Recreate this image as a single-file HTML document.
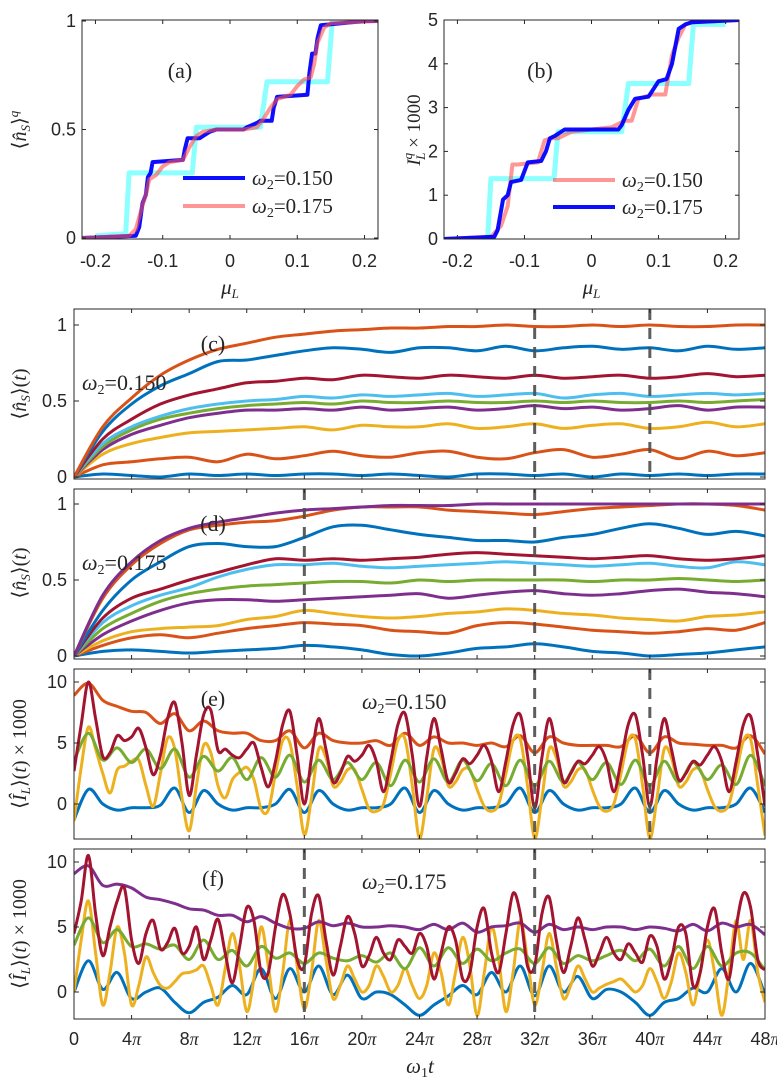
<!DOCTYPE html>
<html><head><meta charset="utf-8">
<style>
body{margin:0;background:#fff;}
svg{display:block;font-family:"Liberation Sans",sans-serif;}
.tk{font-size:18px;fill:#262626;}
.mt{font-family:"Liberation Serif",serif;fill:#262626;}
</style></head>
<body>
<svg id="fig" width="777" height="1085" viewBox="0 0 777 1085" xmlns="http://www.w3.org/2000/svg">
<defs>
<clipPath id="ca"><rect x="82" y="20" width="296" height="219"/></clipPath>
<clipPath id="cb"><rect x="444" y="20" width="295" height="219"/></clipPath>
<clipPath id="cc"><rect x="74" y="309" width="691" height="170"/></clipPath>
<clipPath id="cd"><rect x="74" y="489" width="691" height="170"/></clipPath>
<clipPath id="ce"><rect x="74" y="669" width="691" height="170"/></clipPath>
<clipPath id="cf"><rect x="74" y="849" width="691" height="170"/></clipPath>
</defs>
</svg>
<script>
// ---------- data: panels (a),(b) ----------
const aBlueMu=[-0.22,-0.14,-0.135,-0.13,-0.125,-0.122,-0.118,-0.115,-0.07,-0.067,-0.063,-0.045,-0.04,-0.03,-0.02,0.02,0.025,0.04,0.045,0.062,0.065,0.07,0.115,0.118,0.122,0.127,0.13,0.135,0.2,0.22];
const aBlueV=[0,0.01,0.05,0.16,0.2,0.28,0.3,0.35,0.36,0.41,0.46,0.46,0.47,0.49,0.5,0.5,0.51,0.53,0.54,0.54,0.6,0.65,0.66,0.76,0.85,0.85,0.92,0.98,1,1];
const aSalMu=[-0.22,-0.15,-0.14,-0.13,-0.125,-0.12,-0.11,-0.1,-0.09,-0.07,-0.06,-0.05,-0.04,-0.02,0.02,0.04,0.05,0.06,0.07,0.09,0.1,0.11,0.12,0.125,0.13,0.14,0.15,0.22];
const aSalV=[0,0.01,0.04,0.15,0.2,0.27,0.29,0.33,0.35,0.36,0.42,0.47,0.49,0.5,0.5,0.51,0.55,0.6,0.64,0.66,0.7,0.73,0.74,0.8,0.9,0.97,0.99,1];
const cyanMu=[-0.2,-0.155,-0.15,-0.056,-0.05,0.045,0.055,0.145,0.152,0.2];
const aCyanV=[0.01,0.02,0.3,0.3,0.51,0.51,0.72,0.72,1,1];
const bCyanV=[0,0,1.38,1.38,2.45,2.45,3.55,3.55,4.9,4.9];
const bBlueMu=[-0.22,-0.145,-0.14,-0.132,-0.125,-0.12,-0.105,-0.095,-0.075,-0.068,-0.062,-0.055,-0.04,0.04,0.045,0.055,0.065,0.085,0.1,0.112,0.12,0.13,0.14,0.15,0.22];
const bBlueV=[0,0.05,0.2,0.9,1.0,1.3,1.35,1.75,1.78,2.0,2.3,2.35,2.5,2.5,2.6,2.95,3.2,3.25,3.6,3.65,4.0,4.8,4.9,4.95,5];
const bSalMu=[-0.22,-0.15,-0.135,-0.125,-0.118,-0.11,-0.08,-0.07,-0.06,-0.05,-0.03,0.03,0.05,0.06,0.07,0.09,0.11,0.12,0.13,0.14,0.15,0.22];
const bSalV=[0,0.05,0.3,0.75,1.7,1.7,1.75,2.25,2.3,2.3,2.45,2.55,2.7,2.7,3.2,3.3,3.3,4.2,4.6,4.9,4.95,5];

// ---------- data: panel (c) omega2=0.150, t = 0,2,...,48 (units of pi) ----------
const tC=[0,2,4,6,8,10,12,14,16,18,20,22,24,26,28,30,32,34,36,38,40,42,44,46,48];
const cBlueLow=[0,0.02,0.01,0,0.02,0.01,0.02,0.01,0.02,0.02,0.01,0.02,0.01,0,0.02,0.02,0.01,0.02,0,0.02,0.01,0.02,0.01,0.02,0.02];
const cOrangeLow=[0,0.08,0.1,0.12,0.13,0.1,0.15,0.12,0.14,0.17,0.14,0.13,0.16,0.17,0.13,0.12,0.16,0.18,0.13,0.15,0.18,0.12,0.17,0.14,0.16];
const cYellow=[0,0.15,0.22,0.26,0.29,0.3,0.31,0.32,0.33,0.31,0.34,0.33,0.33,0.35,0.32,0.33,0.35,0.32,0.34,0.35,0.32,0.33,0.36,0.33,0.35];
const cPurple=[0,0.18,0.28,0.34,0.39,0.42,0.44,0.44,0.45,0.44,0.46,0.44,0.45,0.46,0.44,0.45,0.47,0.45,0.46,0.44,0.45,0.47,0.44,0.46,0.46];
const cGreen=[0,0.2,0.31,0.38,0.42,0.45,0.47,0.48,0.49,0.48,0.5,0.49,0.49,0.5,0.49,0.49,0.5,0.49,0.5,0.49,0.49,0.5,0.49,0.5,0.51];
const cLight=[0,0.22,0.33,0.4,0.45,0.48,0.5,0.51,0.53,0.52,0.54,0.53,0.54,0.55,0.53,0.54,0.55,0.52,0.54,0.55,0.53,0.54,0.55,0.54,0.55];
const cRed=[0,0.25,0.38,0.48,0.54,0.58,0.62,0.63,0.65,0.64,0.67,0.66,0.65,0.67,0.66,0.65,0.67,0.65,0.66,0.67,0.65,0.66,0.68,0.66,0.67];
const cBlueHigh=[0,0.3,0.48,0.6,0.68,0.76,0.77,0.8,0.83,0.85,0.84,0.82,0.85,0.85,0.83,0.86,0.83,0.85,0.86,0.84,0.85,0.83,0.86,0.84,0.85];
const cOrangeTop=[0,0.33,0.52,0.67,0.77,0.84,0.88,0.92,0.94,0.96,0.97,0.98,0.98,0.99,0.99,1,0.99,0.99,1,0.99,1,0.99,0.99,1,1];

// ---------- data: panel (d) omega2=0.175 ----------
const dBlueLow=[0,0.03,0.04,0.03,0.02,0.03,0.04,0.05,0.07,0.06,0.04,0.01,0,0.02,0.05,0.06,0.08,0.06,0.03,0.02,0,0.01,0.02,0.04,0.06];
const dOrangeLow=[0,0.07,0.12,0.14,0.12,0.15,0.18,0.2,0.22,0.21,0.2,0.17,0.16,0.15,0.2,0.22,0.21,0.19,0.17,0.16,0.15,0.16,0.18,0.17,0.22];
const dYellow=[0,0.1,0.16,0.18,0.19,0.2,0.24,0.26,0.3,0.28,0.26,0.25,0.26,0.28,0.29,0.31,0.3,0.28,0.27,0.25,0.24,0.23,0.26,0.27,0.29];
const dPurpleLow=[0,0.14,0.23,0.3,0.35,0.37,0.37,0.36,0.37,0.38,0.39,0.4,0.41,0.38,0.4,0.42,0.43,0.41,0.4,0.41,0.43,0.44,0.42,0.41,0.39];
const dGreen=[0,0.18,0.28,0.36,0.41,0.44,0.46,0.47,0.48,0.49,0.49,0.48,0.5,0.49,0.5,0.5,0.5,0.5,0.49,0.5,0.5,0.51,0.5,0.49,0.5];
const dLight=[0,0.22,0.33,0.4,0.45,0.52,0.57,0.6,0.6,0.61,0.59,0.58,0.59,0.6,0.61,0.62,0.61,0.6,0.59,0.6,0.61,0.59,0.58,0.62,0.6];
const dRed=[0,0.25,0.38,0.44,0.5,0.55,0.6,0.64,0.63,0.64,0.63,0.64,0.65,0.67,0.68,0.67,0.66,0.65,0.64,0.65,0.66,0.64,0.63,0.64,0.66];
const dBlueHigh=[0,0.3,0.5,0.62,0.72,0.74,0.72,0.72,0.78,0.85,0.86,0.83,0.8,0.78,0.76,0.76,0.75,0.78,0.8,0.84,0.87,0.84,0.8,0.82,0.79];
const dOrangeTop=[0,0.38,0.6,0.74,0.83,0.86,0.88,0.89,0.92,0.96,0.98,0.98,0.98,0.96,0.95,0.94,0.93,0.95,0.97,0.98,0.99,1,1,0.99,0.96];
const dPurpleTop=[0,0.4,0.62,0.76,0.84,0.88,0.91,0.94,0.96,0.97,0.98,0.99,0.99,0.99,1,1,1,1,1,1,1,1,1,1,1];

// ---------- data: panel (e) ----------
const t1=[0,1,2,3,4,5,6,7,8,9,10,11,12,13,14,15,16,17,18,19,20,21,22,23,24,25,26,27,28,29,30,31,32,33,34,35,36,37,38,39,40,41,42,43,44,45,46,47,48];
const tH=[0,0.5,1,1.5,2,2.5,3,3.5,4,4.5,5,5.5,6,6.5,7,7.5,8,8.5,9,9.5,10,10.5,11,11.5,12,12.5,13,13.5,14,14.5,15,15.5,16,16.5,17,17.5,18,18.5,19,19.5,20,20.5,21,21.5,22,22.5,23,23.5,24,24.5,25,25.5,26,26.5,27,27.5,28,28.5,29,29.5,30,30.5,31,31.5,32,32.5,33,33.5,34,34.5,35,35.5,36,36.5,37,37.5,38,38.5,39,39.5,40,40.5,41,41.5,42,42.5,43,43.5,44,44.5,45,45.5,46,46.5,47,47.5,48];
const eBlue=[-1.3,1.2,0,-0.5,-0.3,-0.3,-0.1,1.3,-0.7,1.1,0,-0.5,-0.3,-0.3,0,1.2,-0.7,1.1,0,-0.5,-0.3,-0.3,0,1.3,-0.7,1.1,0,-0.5,-0.3,-0.3,0,1.3,-0.7,1.1,0,-0.5,-0.3,-0.3,0,1.3,-0.7,1.1,0,-0.5,-0.3,-0.3,0,1.3,-0.7];
const eGreen=[3.5,5.8,3.6,4.6,3.4,4.5,2.9,4.5,2.2,3.9,2.7,3.8,2,3.8,2.2,4,1.8,3.6,2,3.4,2,3.4,1.5,3.6,1.8,3.7,1.8,3.6,1.9,3.3,1.5,3.6,1.5,3.5,1.8,3.4,2,3.4,1.6,3.6,1.5,3.5,1.8,3.4,2,3.2,1.6,4,1.5];
const eOrange=[8.9,9.9,8.5,8,7.6,7.5,6.6,7.4,6,6.8,6,5.8,5.8,5.2,5.2,6,4.6,5.8,5.2,5,5,5.2,4.8,5.8,4.8,5.5,5,5,4.8,5,4.7,5.6,4.2,5.5,5,4.8,4.8,4.8,4.7,5.6,4.2,5.5,5,4.9,4.8,4.8,4.6,5.6,4.1];
const eRed=[2.7,6.5,10,7,3.9,4.2,5.6,5.2,5.5,6.2,4.6,2.4,4,7,8.3,5,0.7,4,7.3,7.7,4.4,4.5,4,3.8,4.5,5,3,1.4,3.5,6.5,7.6,4,0,3.8,7,4.5,1.8,2.5,3.9,3.5,4,4.8,3.5,1,3.5,6.5,7.4,4,-0.2,3.8,7,4.5,1.8,2.5,3.7,3.3,4,4.8,3.5,1,3.5,6.5,7.3,4,-0.3,3.8,7,4.5,1.8,2.5,3.5,3.3,4,4.7,3.5,1,3.5,6.5,7.3,4,-0.2,3.8,7,4.5,2,2.5,3.5,3.2,4,4.7,3.5,1,3.5,6.5,7.2,4,-0.2];
const eYellow=[-1.4,3,6.3,4.5,2.5,0.9,2.8,3.1,3.5,3.6,1.5,-0.2,2.5,5.4,4.5,0.5,-2.2,1.5,4.8,4.2,1.5,0.5,2,2.6,3,2,-0.4,-0.5,2.5,5.2,5,1.5,-2.5,0.5,4.5,3.8,1.5,1.8,2.8,2.8,1.2,-0.4,-0.6,0,2.5,5.2,5.3,1.5,-2.8,0.5,4.5,3.8,1.5,1.8,2.8,2.8,1.2,-0.2,-0.6,0,2.5,5.2,5.3,1.5,-2.8,0.5,4.5,3.8,1.5,1.8,2.8,2.8,1.2,-0.2,-0.6,0,2.5,5.2,5.3,1.5,-2.8,0.5,4.5,3.8,1.5,1.8,2.8,2.8,1.2,-0.2,-0.6,0,2.5,5.2,5.3,1.5,-2.6];

// ---------- data: panel (f) ----------
const fBlue=[0,2.4,0.2,1.5,-0.5,0,0.3,-0.8,-1.6,-0.8,-0.4,0.5,-0.2,1.8,-0.5,1.8,0,2,-0.2,1.3,-0.5,0,-0.2,-1,-1.8,-1,-0.3,0.5,-0.2,1.5,0,2,-0.3,2,0,1.2,-0.5,0.2,0,-0.8,-1.8,-0.8,-0.5,0.3,0,1.8,0,2.2,-0.2];
const fGreen=[3.6,5.7,3.8,4.8,3.5,3.7,3.3,3.6,2.5,4,2.5,3.2,2,3.5,2.6,3,2.2,3,2.6,2.4,2.8,2.3,3,1.8,3.4,2,3.4,2.2,3.3,2.4,3,3.3,2.2,3.4,2.2,2.8,2.4,2.8,3.2,2.4,3.3,2,3.5,1.8,3.5,2,3,3,1.7];
const fPurple=[9.1,9.7,8.2,8.3,8,7.3,7.1,6.8,6.4,6.3,5.9,5.9,5.4,5.8,5.3,4.9,4.9,5.4,5.1,5.3,5,5,5.1,5,4.8,5.2,4.8,5.3,4.6,5,5.1,5.3,4.6,5.2,4.8,5,4.8,5,5,4.8,5,4.9,4.7,5.2,4.7,5.3,5,5.2,4.4];
const fRed=[4.5,7,10.5,6,2.8,5,7,8,4,2.2,4.5,5.5,3.3,3.8,4.9,3,3.5,5,2.5,4,5.6,3,0.7,3.5,6.5,5.5,1.5,1.5,5,7.5,6,2.5,2,6,7.4,4,1.3,3.5,5.8,4.5,2,2.8,4.2,3,2.5,4,3.5,3,4.5,3.5,1,3,5,4,1,1.5,5,6.4,3,1.5,4.5,7.6,6,2,2,6,7.3,4,1.5,3.5,5.7,4,2,3,4.2,3,2.5,3.7,3,2.3,4.3,3.5,1,2.5,5,4.5,0.5,1.5,5,6.4,3,1,5,7.6,6.5,2.5,1.7];
const fYellow=[0,4,7,3,-1,1.5,5,3,-1,0.5,2.7,1.5,0.5,0.3,0.8,1.4,1.5,1.7,2,0.5,-1,1.8,4.5,2,-1.5,1,5,2,-1.5,1.5,5.5,2,-1.3,1.5,5.5,2.5,-0.5,0.5,2,1,0,0.5,2,1.2,0,0.5,1.8,0.5,-0.5,0.5,3,1.5,-1,1.5,4.2,2,-1.8,1.5,5,2.5,-1.5,1.5,5.5,2.5,-1,1.5,4.5,2,-0.5,0.5,2,1,0,0.3,0.6,0.8,1,0.5,0,0.5,1.8,0.8,-0.5,0.8,3,1.5,-1,1.5,4,1.5,-1.8,1.5,5.5,2.5,5.5,1.5,-0.8];

const timeTicks=[0,4,8,12,16,20,24,28,32,36,40,44,48];
const muTicks=[-0.2,-0.1,0,0.1,0.2];
const muTickLabels=["-0.2","-0.1","0","0.1","0.2"];

// ---------- helpers ----------
const svg=document.getElementById('fig');
const NS='http://www.w3.org/2000/svg';
function mk(tag,attrs,parent){const e=document.createElementNS(NS,tag);for(const k in attrs)e.setAttribute(k,attrs[k]);(parent||svg).appendChild(e);return e;}
function smooth(pts){let d='M'+pts[0][0].toFixed(1)+','+pts[0][1].toFixed(1);
 for(let i=0;i<pts.length-1;i++){const p0=pts[i-1]||pts[i],p1=pts[i],p2=pts[i+1],p3=pts[i+2]||p2;
 const c1=[p1[0]+(p2[0]-p0[0])/6,p1[1]+(p2[1]-p0[1])/6],c2=[p2[0]-(p3[0]-p1[0])/6,p2[1]-(p3[1]-p1[1])/6];
 d+='C'+c1[0].toFixed(1)+','+c1[1].toFixed(1)+' '+c2[0].toFixed(1)+','+c2[1].toFixed(1)+' '+p2[0].toFixed(1)+','+p2[1].toFixed(1);}return d;}
function poly(pts){return 'M'+pts.map(p=>p[0].toFixed(1)+','+p[1].toFixed(1)).join('L');}
function txt(x,y,s,cls,anchor,name,size){const e=mk('text',{x:x,y:y,'class':cls||'tk','text-anchor':anchor||'middle'});if(size)e.setAttribute('font-size',size);e.innerHTML=s;
 
 return e;}

// ---------- panels (a),(b) ----------
function muPanel(o){
 const X=m=>o.x0+(m+0.22)/0.44*(o.x1-o.x0);
 const Y=v=>o.yz-v*o.ys;
 const g=mk('g',{});
 
 
 const gl=mk('g',{'clip-path':'url(#'+o.clip+')'},g);
 o.series.forEach(s=>{const p=mk('path',{d:poly(s.mu.map((m,i)=>[X(m),Y(s.v[i])])),fill:'none',stroke:s.c,'stroke-width':s.w,'stroke-opacity':s.op,'stroke-linejoin':'round'},gl);
  
  });
 const ax=mk('rect',{x:o.x0,y:20,width:o.x1-o.x0,height:219,fill:'none',stroke:'#262626','stroke-width':1},g);
 
 
 muTicks.forEach((m,i)=>{mk('line',{x1:X(m),x2:X(m),y1:239,y2:235,stroke:'#262626'},g);mk('line',{x1:X(m),x2:X(m),y1:20,y2:24,stroke:'#262626'},g);
  txt(X(m),267,muTickLabels[i],'tk','middle','x-tick-label');});
 o.yt.forEach((v,i)=>{mk('line',{x1:o.x0,x2:o.x0+4,y1:Y(v),y2:Y(v),stroke:'#262626'},g);mk('line',{x1:o.x1,x2:o.x1-4,y1:Y(v),y2:Y(v),stroke:'#262626'},g);
  txt(o.x0-6,Y(v)+6,o.ytl[i],'tk','end','y-tick-label');});
 txt((o.x0+o.x1)/2,294,'<tspan font-style="italic">μ</tspan><tspan font-size="13" font-style="italic" dy="4">L</tspan>','mt','middle','x-axis-title',21);
}
muPanel({name:'panel-a',clip:'ca',x0:82,x1:378,yz:238,ys:217,yt:[0,0.5,1],ytl:['0','0.5','1'],series:[
 {name:'cyan-reference',mu:cyanMu,v:aCyanV,c:'#00ffff',w:5,op:0.45},
 {name:'series-omega-0150',mu:aBlueMu,v:aBlueV,c:'#0000ff',w:4,op:0.95},
 {name:'series-omega-0175',mu:aSalMu,v:aSalV,c:'#ff5050',w:4,op:0.6}]});
muPanel({name:'panel-b',clip:'cb',x0:444,x1:739,yz:239,ys:43.8,yt:[0,1,2,3,4,5],ytl:['0','1','2','3','4','5'],series:[
 {name:'cyan-reference',mu:cyanMu,v:bCyanV,c:'#00ffff',w:5,op:0.45},
 {name:'series-omega-0150',mu:bSalMu,v:bSalV,c:'#ff5050',w:4,op:0.6},
 {name:'series-omega-0175',mu:bBlueMu,v:bBlueV,c:'#0000ff',w:4,op:0.95}]});
txt(180,78,'(a)','mt','middle','panel-a-label',22);
txt(540,78,'(b)','mt','middle','panel-b-label',22);
(function(){const e=txt(0,0,'⟨<tspan font-style="italic">n̂</tspan><tspan font-size="13" font-style="italic" dy="4">S</tspan><tspan dy="-4">⟩</tspan><tspan font-size="13" font-style="italic" dy="-8">q</tspan>','mt','middle','y-axis-title-a',20);e.setAttribute('transform','translate(26,130) rotate(-90)');})();
(function(){const e=txt(0,0,'<tspan font-style="italic">I</tspan><tspan font-size="13" font-style="italic" dy="-8">q</tspan><tspan font-size="13" font-style="italic" dx="-7" dy="13">L</tspan><tspan dy="-5"> × 1000</tspan>','mt','middle','y-axis-title-b',19);e.setAttribute('transform','translate(420,130) rotate(-90)');})();
function legend(x,y,c,op,label,name){const l=mk('line',{x1:x,x2:x+62,y1:y,y2:y,stroke:c,'stroke-width':4,'stroke-opacity':op});
 
 
 txt(x+69,y+7,'<tspan font-style="italic">ω</tspan><tspan font-size="14" dy="4">2</tspan><tspan dy="-4">=0.'+label+'</tspan>','mt','start',name,21);}
legend(183,178,'#0000ff',0.95,'150','legend-entry-0150');
legend(183,206,'#ff5050',0.6,'175','legend-entry-0175');
legend(553,180,'#ff5050',0.6,'150','legend-entry-0150');
legend(553,207,'#0000ff',0.95,'175','legend-entry-0175');

// ---------- time panels ----------
const X0=74,X1=765;
const XT=t=>X0+t/48*(X1-X0);
const C={blue:'#0072BD',orange:'#D95319',yellow:'#EDB120',purple:'#7E2F8E',green:'#77AC30',light:'#4DBEEE',red:'#A2142F'};
function timePanel(o){
 const Y=v=>o.yz-v*o.ys;
 const g=mk('g',{});
 
 
 const gl=mk('g',{'clip-path':'url(#'+o.clip+')'},g);
 o.series.forEach(s=>{const p=mk('path',{d:smooth(s.t.map((t,i)=>[XT(t),Y(s.v[i])])),fill:'none',stroke:s.c,'stroke-width':3,'stroke-linejoin':'round'},gl);
  
  });
 o.dash.forEach(t=>{const l=mk('line',{x1:XT(t),x2:XT(t),y1:o.top,y2:o.top+170,stroke:'#4d4d4d','stroke-width':3,'stroke-dasharray':'11,8','stroke-opacity':0.9},g);
  
  });
 const ax=mk('rect',{x:X0,y:o.top,width:X1-X0,height:170,fill:'none',stroke:'#262626','stroke-width':1},g);
 
 
 timeTicks.forEach(t=>{mk('line',{x1:XT(t),x2:XT(t),y1:o.top+170,y2:o.top+166,stroke:'#262626'},g);mk('line',{x1:XT(t),x2:XT(t),y1:o.top,y2:o.top+4,stroke:'#262626'},g);});
 o.yt.forEach((v,i)=>{mk('line',{x1:X0,x2:X0+5,y1:Y(v),y2:Y(v),stroke:'#262626'},g);mk('line',{x1:X1,x2:X1-5,y1:Y(v),y2:Y(v),stroke:'#262626'},g);
  txt(X0-7,Y(v)+6,o.ytl[i],'tk','end','y-tick-label');});
}
const nsLabel='⟨<tspan font-style="italic">n̂</tspan><tspan font-size="13" font-style="italic" dy="4">S</tspan><tspan dy="-4">⟩(</tspan><tspan font-style="italic">t</tspan>)';
const ilLabel='⟨<tspan font-style="italic">Î</tspan><tspan font-size="13" font-style="italic" dy="4">L</tspan><tspan dy="-4">⟩(</tspan><tspan font-style="italic">t</tspan>) × 1000';
function ylab(s,y,name){const e=txt(0,0,s,'mt','middle',name,20);e.setAttribute('transform','translate(26,'+y+') rotate(-90)');}

timePanel({name:'panel-c',clip:'cc',top:309,yz:477,ys:152,yt:[0,0.5,1],ytl:['0','0.5','1'],dash:[32,40],series:[
 {name:'c-blue-low',t:tC,v:cBlueLow,c:C.blue},{name:'c-orange-low',t:tC,v:cOrangeLow,c:C.orange},{name:'c-yellow',t:tC,v:cYellow,c:C.yellow},
 {name:'c-purple',t:tC,v:cPurple,c:C.purple},{name:'c-green',t:tC,v:cGreen,c:C.green},{name:'c-lightblue',t:tC,v:cLight,c:C.light},
 {name:'c-darkred',t:tC,v:cRed,c:C.red},{name:'c-blue-high',t:tC,v:cBlueHigh,c:C.blue},{name:'c-orange-top',t:tC,v:cOrangeTop,c:C.orange}]});
timePanel({name:'panel-d',clip:'cd',top:489,yz:656,ys:152,yt:[0,0.5,1],ytl:['0','0.5','1'],dash:[16,32],series:[
 {name:'d-blue-low',t:tC,v:dBlueLow,c:C.blue},{name:'d-orange-low',t:tC,v:dOrangeLow,c:C.orange},{name:'d-yellow',t:tC,v:dYellow,c:C.yellow},
 {name:'d-purple-low',t:tC,v:dPurpleLow,c:C.purple},{name:'d-green',t:tC,v:dGreen,c:C.green},{name:'d-lightblue',t:tC,v:dLight,c:C.light},
 {name:'d-darkred',t:tC,v:dRed,c:C.red},{name:'d-blue-high',t:tC,v:dBlueHigh,c:C.blue},{name:'d-orange-top',t:tC,v:dOrangeTop,c:C.orange},{name:'d-purple-top',t:tC,v:dPurpleTop,c:C.purple}]});
timePanel({name:'panel-e',clip:'ce',top:669,yz:804,ys:12.2,yt:[0,5,10],ytl:['0','5','10'],dash:[32,40],series:[
 {name:'e-blue',t:t1,v:eBlue,c:C.blue},{name:'e-orange',t:t1,v:eOrange,c:C.orange},{name:'e-yellow',t:tH,v:eYellow,c:C.yellow},
 {name:'e-green',t:t1,v:eGreen,c:C.green},{name:'e-darkred',t:tH,v:eRed,c:C.red}]});
timePanel({name:'panel-f',clip:'cf',top:849,yz:992,ys:13,yt:[0,5,10],ytl:['0','5','10'],dash:[16,32],series:[
 {name:'f-blue',t:t1,v:fBlue,c:C.blue},{name:'f-yellow',t:tH,v:fYellow,c:C.yellow},{name:'f-green',t:t1,v:fGreen,c:C.green},
 {name:'f-purple',t:t1,v:fPurple,c:C.purple},{name:'f-darkred',t:tH,v:fRed,c:C.red}]});

ylab(nsLabel,394,'y-axis-title-c');ylab(nsLabel,573,'y-axis-title-d');
ylab(ilLabel,754,'y-axis-title-e');ylab(ilLabel,934,'y-axis-title-f');
txt(213,351,'(c)','mt','middle','panel-c-label',22);
txt(213,531,'(d)','mt','middle','panel-d-label',22);
txt(213,706,'(e)','mt','middle','panel-e-label',22);
txt(213,886,'(f)','mt','middle','panel-f-label',22);
const w2=v=>'<tspan font-style="italic">ω</tspan><tspan font-size="14" dy="4">2</tspan><tspan dy="-4">=0.'+v+'</tspan>';
txt(82,390,w2('150'),'mt','start','omega-annotation-c',22);
txt(82,570,w2('175'),'mt','start','omega-annotation-d',22);
txt(362,709,w2('150'),'mt','start','omega-annotation-e',22);
txt(362,889,w2('175'),'mt','start','omega-annotation-f',22);
timeTicks.forEach(t=>{txt(XT(t),1045,t===0?'0':t+'<tspan font-family="Liberation Serif" font-style="italic">π</tspan>','tk','middle','x-tick-label');});
txt(420,1073,'<tspan font-style="italic">ω</tspan><tspan font-size="14" dy="4">1</tspan><tspan font-style="italic" dy="-4">t</tspan>','mt','middle','x-axis-title',21);
</script>
</body></html>
